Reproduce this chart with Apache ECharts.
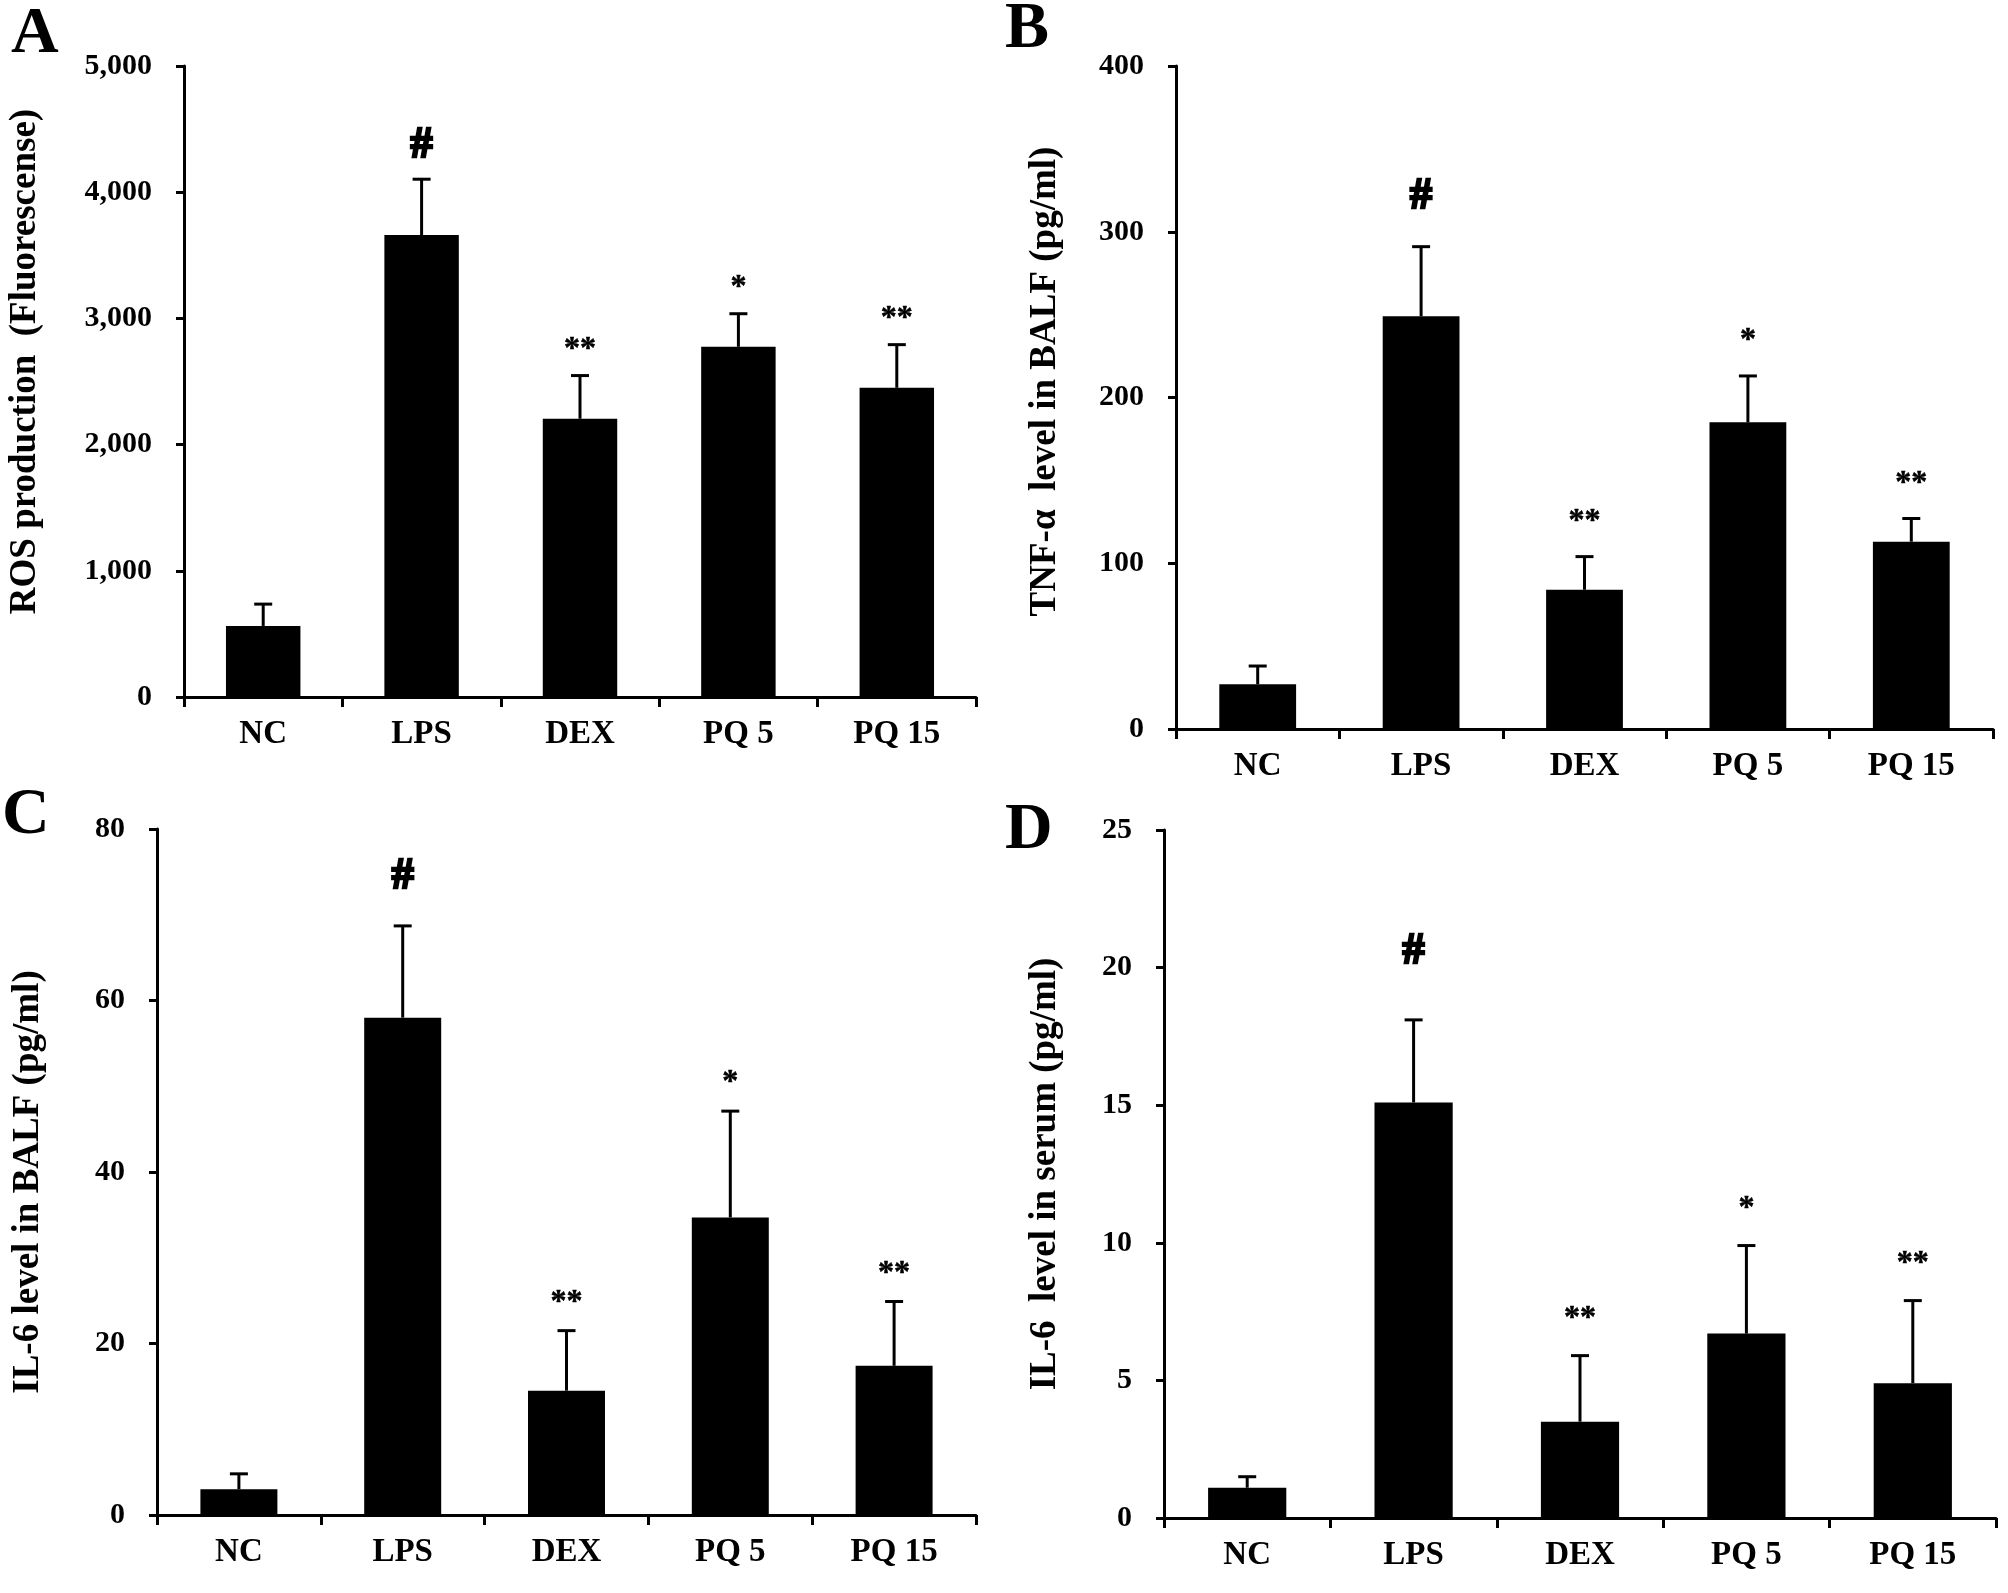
<!DOCTYPE html>
<html>
<head>
<meta charset="utf-8">
<script src="https://cdn.jsdelivr.net/npm/echarts@6/dist/echarts.min.js"></script>
<style>
html, body { margin: 0; padding: 0; background: #fff; }
#cc { width: 2008px; height: 1593px; }
</style>
</head>
<body>
<div id="cc"></div>
<script>
var categories = ['NC', 'LPS', 'DEX', 'PQ 5', 'PQ 15'];
var marks = ['', '#', '**', '*', '**'];

// A: ROS production
var rosMean = [563, 3660, 2205, 2775, 2450];
var rosSd = [173, 443, 342, 262, 342];
// B: TNF-a in BALF
var tnfMean = [27, 249, 84, 185, 113];
var tnfSd = [11, 42, 20, 28, 14];
// C: IL-6 in BALF
var il6BalfMean = [3.0, 58.0, 14.5, 34.7, 17.4];
var il6BalfSd = [1.8, 10.7, 7.0, 12.4, 7.5];
// D: IL-6 in serum
var il6SerumMean = [1.1, 15.1, 3.5, 6.7, 4.9];
var il6SerumSd = [0.4, 3.0, 2.4, 3.2, 3.0];

var yTicksA = [0, 5000, 1000];
var yTicksB = [0, 400, 100];
var yTicksC = [0, 80, 20];
var yTicksD = [0, 25, 5];

var FONT = '"Liberation Serif", "Times New Roman", serif';

var panels = [
    { letter: 'A', title: 'ROS production  (Fluorescense)', mean: rosMean, sd: rosSd, ticks: yTicksA,
      grid: { left: 184, top: 66, width: 792, height: 631 }, nameGap: 140, namePad: [0, 0, 0, 40],
      hashGap: 34, starGap: 33, letterPos: [11, 2], comma: true },
    { letter: 'B', title: 'TNF-\u03b1  level in BALF (pg/ml)', mean: tnfMean, sd: tnfSd, ticks: yTicksB,
      grid: { left: 1176, top: 66, width: 817, height: 663 }, nameGap: 112, namePad: [0, 0, 0, 32],
      hashGap: 50, starGap: 42, letterPos: [1005, -3] },
    { letter: 'C', title: 'IL-6 level in BALF (pg/ml)', mean: il6BalfMean, sd: il6BalfSd, ticks: yTicksC,
      grid: { left: 157, top: 829, width: 819, height: 686 }, nameGap: 110, namePad: [0, 20, 0, 0],
      hashGap: 49, starGap: 35, letterPos: [2, 783] },
    { letter: 'D', title: 'IL-6  level in serum (pg/ml)', mean: il6SerumMean, sd: il6SerumSd, ticks: yTicksD,
      grid: { left: 1164, top: 830, width: 832, height: 688 }, nameGap: 100, namePad: [0, 0, 0, 0],
      hashGap: 68, starGap: 44, letterPos: [1005, 798] }
];

var chart = echarts.init(document.getElementById('cc'));

var grids = [], xAxes = [], yAxes = [], series = [], graphics = [];

panels.forEach(function (p, i) {
    grids.push(p.grid);

    xAxes.push({
        type: 'category',
        gridIndex: i,
        data: categories,
        boundaryGap: true,
        axisLine: { lineStyle: { color: '#000', width: 3 } },
        axisTick: { show: true, length: 10, lineStyle: { color: '#000', width: 3 } },
        axisLabel: { color: '#000', fontFamily: FONT, fontWeight: 'bold', fontSize: 33, margin: 21 },
        splitLine: { show: false }
    });

    yAxes.push({
        type: 'value',
        gridIndex: i,
        min: p.ticks[0],
        max: p.ticks[1],
        interval: p.ticks[2],
        name: p.title,
        nameLocation: 'middle',
        nameGap: p.nameGap,
        nameTextStyle: { color: '#000', fontFamily: FONT, fontWeight: 'bold', fontSize: 37, padding: p.namePad },
        axisLine: { show: true, lineStyle: { color: '#000', width: 3 } },
        axisTick: { show: true, length: 8, lineStyle: { color: '#000', width: 3 } },
        axisLabel: {
            color: '#000', fontFamily: FONT, fontWeight: 'bold', fontSize: 30, margin: 32,
            formatter: function (v) { return p.comma ? v.toLocaleString('en-US') : String(v); }
        },
        splitLine: { show: false }
    });

    series.push({
        type: 'bar',
        xAxisIndex: i,
        yAxisIndex: i,
        data: p.mean,
        barWidth: '47%',
        itemStyle: { color: '#000' },
        silent: true
    });

    series.push({
        type: 'custom',
        xAxisIndex: i,
        yAxisIndex: i,
        z: 5,
        silent: true,
        data: p.mean.map(function (m, k) { return [k, m, p.sd[k]]; }),
        renderItem: function (params, api) {
            var k = api.value(0);
            var m = api.value(1);
            var s = api.value(2);
            var base = api.coord([k, m]);
            var top = api.coord([k, m + s]);
            var mark = marks[k];
            var children = [
                { type: 'line', shape: { x1: base[0], y1: base[1], x2: top[0], y2: top[1] },
                  style: { stroke: '#000', lineWidth: 3 } },
                { type: 'line', shape: { x1: top[0] - 9, y1: top[1], x2: top[0] + 9, y2: top[1] },
                  style: { stroke: '#000', lineWidth: 3 } }
            ];
            if (mark) {
                var isHash = mark === '#';
                children.push({
                    type: 'text',
                    style: {
                        text: mark,
                        x: top[0],
                        y: isHash ? top[1] - p.hashGap : top[1] - p.starGap + 7,
                        align: 'center',
                        verticalAlign: 'middle',
                        fontFamily: FONT,
                        fontWeight: 'bold',
                        fontSize: isHash ? 44 : 32,
                        fill: '#000',
                        stroke: '#000',
                        lineWidth: isHash ? 2.5 : 0.5
                    }
                });
            }
            return { type: 'group', children: children };
        }
    });

    graphics.push({
        type: 'text',
        left: p.letterPos[0],
        top: p.letterPos[1],
        style: { text: p.letter, fontFamily: FONT, fontWeight: 'bold', fontSize: 66, fill: '#000' }
    });
});

var option = {
    animation: false,
    backgroundColor: '#fff',
    grid: grids,
    xAxis: xAxes,
    yAxis: yAxes,
    series: series,
    graphic: graphics
};

chart.setOption(option);
</script>
</body>
</html>
